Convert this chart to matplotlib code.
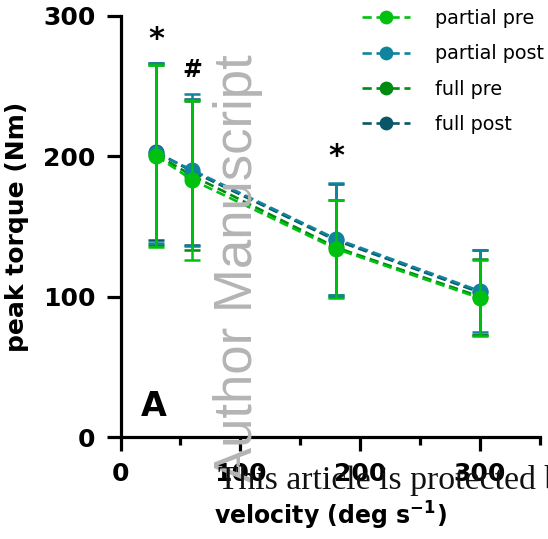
import matplotlib
matplotlib.use("Agg")
from matplotlib import pyplot as plt
import numpy as np

# velocities tested (deg/s)
velocity = [30, 60, 180, 300]

# peak torque mean and SD per condition (Nm)
partial_pre = [200, 183, 134, 99]
partial_pre_sd = [65, 57, 35, 27]
partial_post = [202, 190, 141, 104]
partial_post_sd = [64, 54, 40, 29]
full_pre = [201, 186, 135, 100]
full_pre_sd = [64, 53, 34, 27]
full_post = [203, 189, 140, 103]
full_post_sd = [63, 52, 40, 30]

labels = ["partial pre", "partial post", "full pre", "full post"]
colors = ["#00c010", "#10849c", "#008a10", "#0b5568"]

# significance markers: (x, y, symbol)
marks = [(30, 283, "*"), (60, 261, "#"), (180, 200, "*")]

plt.rcParams["font.family"] = "DejaVu Sans"

fig = plt.figure(figsize=(5.48, 5.39), dpi=100)
ax = fig.add_axes([0.22, 0.189, 0.765, 0.782])

series = [
    (partial_pre, partial_pre_sd),
    (partial_post, partial_post_sd),
    (full_pre, full_pre_sd),
    (full_post, full_post_sd),
]

handles = [None] * 4
# draw in reverse so "partial pre" ends on top
for i in reversed(range(4)):
    m, sd = series[i]
    eb = ax.errorbar(velocity, m, yerr=sd, color=colors[i], ecolor=colors[i],
                     elinewidth=1.8, capsize=5.5, capthick=1.8,
                     linestyle=(0, (3.5, 1.8)), linewidth=1.9,
                     marker="o", markersize=10.5, zorder=3 + (4 - i))
    handles[i] = eb.lines[0]

for x, y, s in marks:
    ax.text(x, y, s, ha="center", va="center", fontsize=22 if s == "*" else 17,
            fontweight="bold")

ax.text(17, 22, "A", fontsize=24, fontweight="bold", ha="left", va="center")

ax.set_xlim(0, 350)
ax.set_ylim(0, 300)
ax.set_xticks([0, 100, 200, 300])
ax.set_xticks([50, 150, 250, 350], minor=True)
ax.set_yticks([0, 100, 200, 300])

for sp in ["top", "right"]:
    ax.spines[sp].set_visible(False)
for sp in ["left", "bottom"]:
    ax.spines[sp].set_linewidth(2.3)

ax.tick_params(axis="both", which="major", length=10, width=2.3, labelsize=18,
               pad=8)
ax.tick_params(axis="x", which="minor", length=6, width=2.3)
for lab in ax.get_xticklabels() + ax.get_yticklabels():
    lab.set_fontweight("bold")

ax.set_ylabel("peak torque (Nm)", fontsize=18, fontweight="bold", labelpad=10)
ax.set_xlabel("velocity (deg s$^{\\mathbf{-1}}$)", fontsize=17,
              fontweight="bold", labelpad=10)

fig.legend(handles, labels, loc="upper left", bbox_to_anchor=(0.63, 1.015),
           frameon=False, fontsize=13.8, handlelength=2.5, handletextpad=1.3,
           labelspacing=0.85, markerscale=0.85)

# watermark texts from the source page
fig.text(0.435, 0.503, "Author Manuscript", rotation=90, fontsize=38,
         color="#b4b4b4", family="Liberation Sans", ha="center", va="center",
         zorder=0)
fig.text(0.397, 0.108, "This article is protected by copyright. All rights reserved",
         fontsize=24.3, family="Liberation Serif", color="#111111", ha="left",
         va="center")

fig.savefig("out.png", dpi=100)
